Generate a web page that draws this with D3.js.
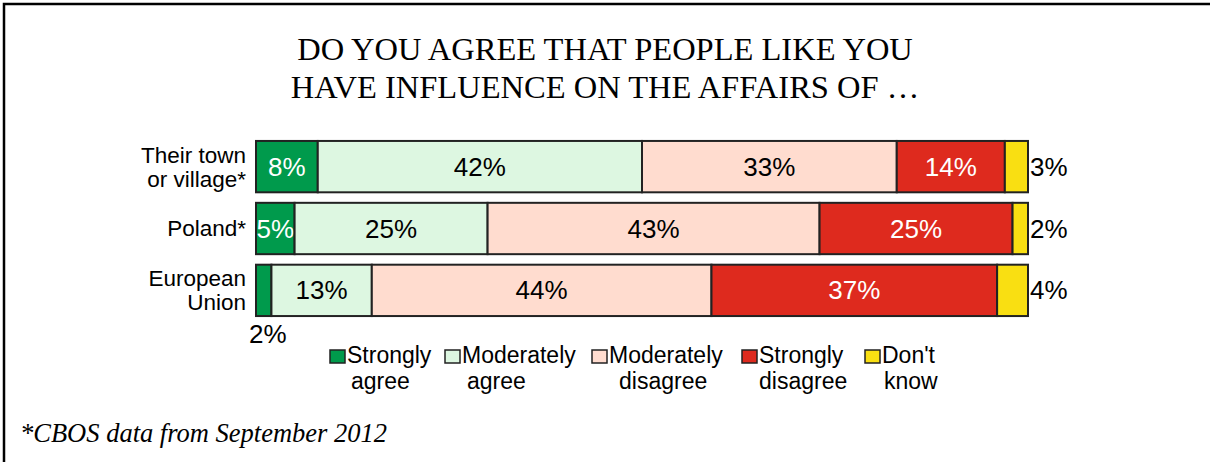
<!DOCTYPE html>
<html><head><meta charset="utf-8">
<script src="https://cdn.jsdelivr.net/npm/d3@7"></script>
<style>body{margin:0;background:#fff}svg{display:block}</style>
</head><body>
<script>
const categories = ["Their town\nor village*", "Poland*", "European\nUnion"];
const seriesNames = ["Strongly\nagree", "Moderately\nagree", "Moderately\ndisagree", "Strongly\ndisagree", "Don't\nknow"];
const stronglyAgree = [8, 5, 2];
const moderatelyAgree = [42, 25, 13];
const moderatelyDisagree = [33, 43, 44];
const stronglyDisagree = [14, 25, 37];
const dontKnow = [3, 2, 4];
const colors = ["#009A4C", "#DDF7E1", "#FFDCCF", "#DE2A1E", "#F9DF12"];
const labelColors = ["#fff", "#000", "#000", "#fff", "#000"];
const titleLines = ["DO YOU AGREE THAT PEOPLE LIKE YOU", "HAVE INFLUENCE ON THE AFFAIRS OF \u2026"];
const footnote = "*CBOS data from September 2012";

const series = [stronglyAgree, moderatelyAgree, moderatelyDisagree, stronglyDisagree, dontKnow];
const W = 1210, H = 462;
const svg = d3.select("body").append("svg").attr("width", W).attr("height", H);

svg.append("rect").attr("x", 4).attr("y", 4).attr("width", W + 10).attr("height", H + 10)
  .attr("fill", "none").attr("stroke", "#000").attr("stroke-width", 2.5);

const title = svg.append("text").attr("text-anchor", "middle")
  .attr("font-family", "'Liberation Serif', 'Times New Roman', serif").attr("font-size", 32.5).attr("fill", "#000");
titleLines.forEach((t, i) => title.append("tspan").attr("x", 605).attr("y", 60 + i * 38).text(t));

const x = d3.scaleLinear().domain([0, 100]).range([256, 1028]);
const y = d3.scaleBand().domain(categories).range([136, 321]).paddingInner(0.17).paddingOuter(0.08);

const font = "'Liberation Sans', Arial, sans-serif";

categories.forEach((c, ci) => {
  let cum = 0;
  series.forEach((s, si) => {
    const v = s[ci];
    const x0 = x(cum), x1 = x(cum + v);
    cum += v;
    svg.append("rect").attr("x", x0).attr("y", y(c)).attr("width", x1 - x0).attr("height", y.bandwidth())
      .attr("fill", colors[si]).attr("stroke", "#222").attr("stroke-width", 2);
    const cy = y(c) + y.bandwidth() / 2;
    let tx, ty, anchor = "middle", col = labelColors[si];
    if (si === 4) { tx = x(100) + 2; ty = cy; anchor = "start"; col = "#000"; }
    else if (v <= 2) { tx = x0 + (x1 - x0) / 2 + 4; ty = y(c) + y.bandwidth() + 18; col = "#000"; }
    else { tx = (x0 + x1) / 2; ty = cy; }
    svg.append("text").attr("x", tx).attr("y", ty).attr("dy", "0.35em").attr("text-anchor", anchor)
      .attr("font-family", font).attr("font-size", 26).attr("fill", col).text(v + "%");
  });
  const lines = c.split("\n");
  const t = svg.append("text").attr("text-anchor", "end").attr("font-family", font).attr("font-size", 22.5).attr("fill", "#000");
  const cy = y(c) + y.bandwidth() / 2;
  lines.forEach((l, li) => t.append("tspan").attr("x", 246)
    .attr("y", cy + (li - (lines.length - 1) / 2) * 24).attr("dy", "0.35em").text(l));
});

const legendX = [330, 445, 592, 742, 865];
const secondLineOffset = [4, 5, 10, 0, 2];
seriesNames.forEach((n, i) => {
  svg.append("rect").attr("x", legendX[i]).attr("y", 350).attr("width", 15).attr("height", 13)
    .attr("fill", colors[i]).attr("stroke", "#222").attr("stroke-width", 1.5);
  const lines = n.split("\n");
  const t = svg.append("text").attr("font-family", font).attr("font-size", 23).attr("fill", "#000");
  t.append("tspan").attr("x", legendX[i] + 17).attr("y", 363).text(lines[0]);
  t.append("tspan").attr("x", legendX[i] + 17 + secondLineOffset[i]).attr("y", 389).text(lines[1]);
});

svg.append("text").attr("x", 20).attr("y", 442).attr("font-family", "'Liberation Serif', 'Times New Roman', serif")
  .attr("font-style", "italic").attr("font-size", 26.5).attr("fill", "#000").text(footnote);
</script>
</body></html>
